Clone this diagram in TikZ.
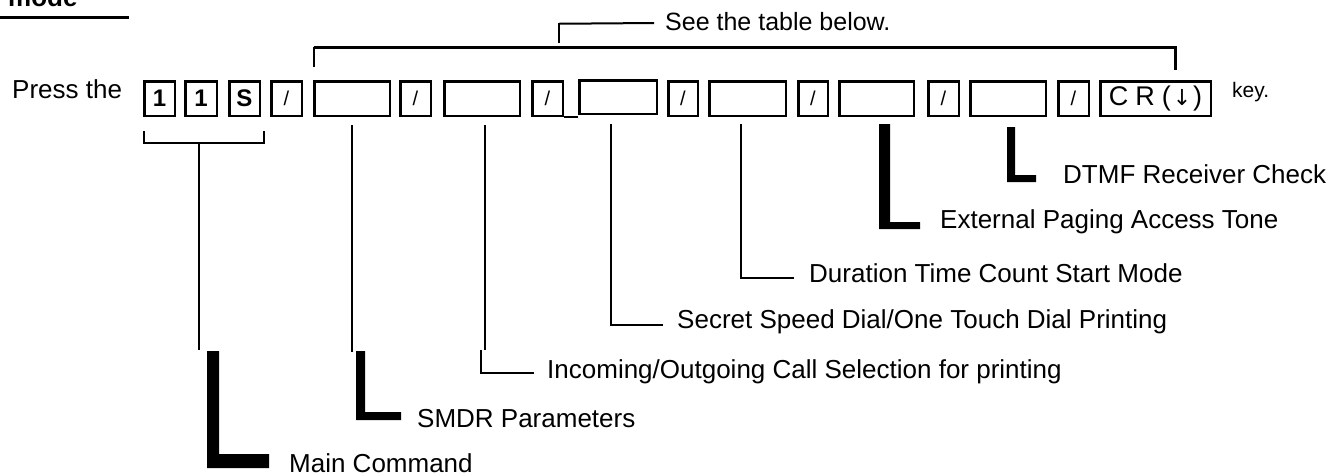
\documentclass[tikz,border=0pt]{standalone}
\usepackage{fontspec}
\setmainfont{Liberation Sans}
\newfontfamily\arrowfont{DejaVu Sans}
\begin{document}
\begin{tikzpicture}[x=1pt,y=-1pt,
  keybox/.style={draw, line width=2.5pt, minimum height=34.5pt, inner sep=0pt},
  lbl/.style={anchor=base west, inner sep=0pt, font=\fontsize{26}{30}\selectfont},
  stem/.style={line width=2.5pt},
  thinline/.style={line width=1.3pt},
  bar/.style={line width=3pt}]
\useasboundingbox (0,0) rectangle (1336,475);
% header fragment
\node[anchor=base west, inner sep=0pt, font=\fontsize{26}{30}\selectfont\bfseries] (mode) at (8,6) {mode};
\coordinate (ul1) at (0,17); \coordinate (ul2) at (129,17);
\draw[bar] (ul1) -- (ul2);
% Press the
\node[lbl] (press) at (12,98) {Press the};
% keys
\newcommand{\digitfont}{\fontsize{24}{26}\selectfont\bfseries}
\newcommand{\slashfont}{\fontsize{20}{22}\selectfont}
\node[keybox, minimum width=30.5pt] (k1) at (159.5,98.5) {\digitfont 1};
\node[keybox, minimum width=31.5pt] (k2) at (201,98.5) {\digitfont 1};
\node[keybox, minimum width=30.5pt] (kS) at (244.5,98.5) {\digitfont S};
\node[keybox, minimum width=30.5pt] (s1) at (286.5,98.5) {\slashfont /};
\node[keybox, minimum width=75.5pt] (b1) at (352,98.5) {};
\node[keybox, minimum width=30.5pt] (s2) at (415.5,98.5) {\slashfont /};
\node[keybox, minimum width=75.5pt] (b2) at (482,98.5) {};
\node[keybox, minimum width=30.5pt] (s3) at (547.5,98.5) {\slashfont /};
\node[keybox, minimum width=77.5pt, minimum height=33.5pt] (b3) at (618,97) {};
\node[keybox, minimum width=29.5pt] (s4) at (683,98.5) {\slashfont /};
\node[keybox, minimum width=76.5pt] (b4) at (747.5,98.5) {};
\node[keybox, minimum width=29.5pt] (s5) at (813,98.5) {\slashfont /};
\node[keybox, minimum width=74.5pt] (b5) at (876.5,98.5) {};
\node[keybox, minimum width=30.5pt] (s6) at (943.5,98.5) {\slashfont /};
\node[keybox, minimum width=75.5pt] (b6) at (1008,98.5) {};
\node[keybox, minimum width=30.5pt] (s7) at (1073.5,98.5) {\slashfont /};
\node[keybox, minimum width=110.5pt] (cr) at (1155.5,98.5) {\fontsize{27}{30}\selectfont C\hspace{7pt}R\hspace{7pt}(\hspace{2pt}{\arrowfont\fontsize{22}{26}\selectfont ↓}\hspace{2pt})};
\node[anchor=base west, inner sep=0pt, font=\fontsize{21}{24}\selectfont] (key) at (1232,97) {key.};
% small underline after third slash
\draw[line width=2pt] (s3.south east) -- (b3.south west |- s3.south east);
% top bracket
\coordinate (tl) at (314,47); \coordinate (tr) at (1175,47);
\coordinate (tlb) at (314,67); \coordinate (trb) at (1175,70);
\draw[bar] ([xshift=-0.5pt]tl) -- ([xshift=1.5pt]tr);
\draw[line width=1.2pt] (tl) -- (tlb);
\draw[bar] (tr) -- (trb);
\coordinate (sb) at (559,43); \coordinate (sc) at (559,23); \coordinate (sd) at (654,23);
\draw[line width=1.5pt] (sb) -- (sc);
\draw[line width=2pt] ([yshift=-0.75pt]sc) -- (sd);
\node[lbl, font=\fontsize{25}{30}\selectfont] (see) at (665,30) {See the table below.};
% bracket under 1 1 S
\coordinate (u1) at (144,131); \coordinate (u2) at (144,143);
\coordinate (u3) at (264,143); \coordinate (u4) at (264,131);
\coordinate (um) at (199,143); \coordinate (ue) at (199,350);
\draw[thinline] (u1) -- (u2) -- (u3) -- (u4);
\draw[line width=1.6pt] (um) -- (ue);
% Main Command
\fill (207,351) -- (219,351) -- (219,454) -- (269,454) -- (269,468) -- (207,468) -- cycle;
\node[lbl] (main) at (289,472) {Main Command};
% SMDR
\coordinate (e1) at (352,352);
\draw[stem] ([yshift=-8pt]b1.south) -- (e1);
\fill (356,351) -- (365,351) -- (365,412) -- (401,412) -- (401,420) -- (356,420) -- cycle;
\node[lbl] (smdr) at (417,427) {SMDR Parameters};
% Incoming
\coordinate (e2) at (485,350); \coordinate (f2) at (481,350);
\coordinate (g2) at (481,373); \coordinate (h2) at (534,373);
\draw[stem] ([xshift=3pt,yshift=-8pt]b2.south) -- (e2);
\draw[line width=2pt] (f2) -- (g2) -- (h2);
\node[lbl] (inc) at (547,378) {Incoming/Outgoing Call Selection for printing};
% Secret
\coordinate (e3) at (611,325); \coordinate (f3) at (663,325);
\draw[stem] ([xshift=-7pt,yshift=-9pt]b3.south) -- (e3) -- (f3);
\node[lbl] (secret) at (677,328) {Secret Speed Dial/One Touch Dial Printing};
% Duration
\coordinate (e4) at (741,278); \coordinate (f4) at (794,278);
\draw[stem] ([xshift=-6.5pt,yshift=-7pt]b4.south) -- (e4) -- (f4);
\node[lbl] (dur) at (809,282) {Duration Time Count Start Mode};
% External
\fill (879,124) -- (890,124) -- (890,222) -- (920,222) -- (920,229) -- (879,229) -- cycle;
\node[lbl] (ext) at (940,228) {External Paging Access Tone};
% DTMF
\fill (1007,127) -- (1015,127) -- (1015,175) -- (1036,175) -- (1036,182) -- (1007,182) -- cycle;
\node[lbl] (dtmf) at (1063,183) {DTMF Receiver Check};
\end{tikzpicture}
\end{document}
